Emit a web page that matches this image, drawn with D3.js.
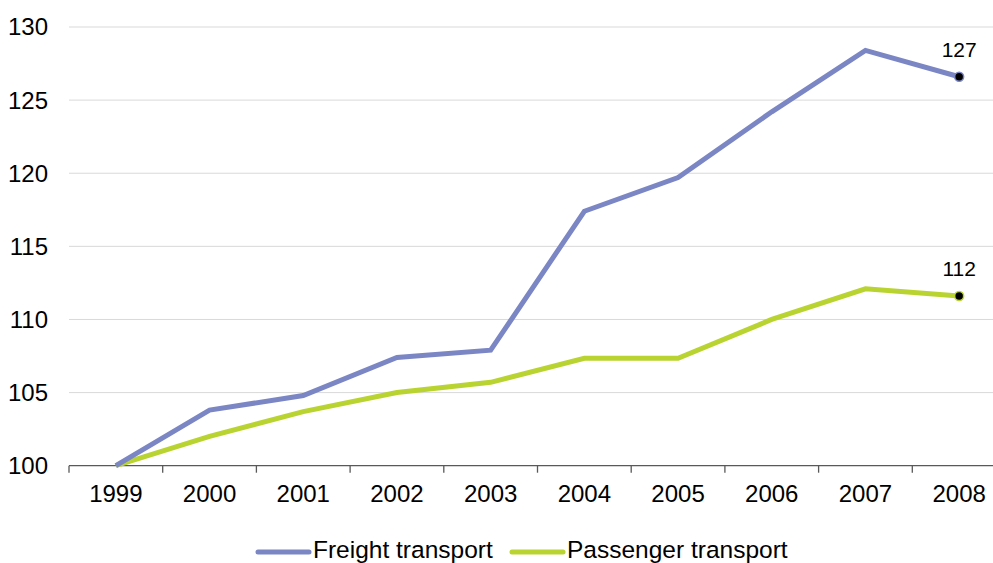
<!DOCTYPE html>
<html>
<head>
<meta charset="utf-8">
<script src="https://cdn.jsdelivr.net/npm/d3@7"></script>
<style>
  body { margin: 0; background: #fff; }
  svg { display: block; font-family: "Liberation Sans", Arial, sans-serif; }
</style>
</head>
<body>
<div id="vis"></div>
<script>
// chart data
const YEARS = ["1999", "2000", "2001", "2002", "2003", "2004", "2005", "2006", "2007", "2008"];
const FREIGHT = [100, 103.8, 104.8, 107.4, 107.9, 117.4, 119.7, 124.2, 128.4, 126.6];
const PASSENGER = [100, 102.0, 103.7, 105.0, 105.7, 107.35, 107.35, 110.0, 112.1, 111.6];
const Y_TICKS = [100, 105, 110, 115, 120, 125, 130];
const SERIES_NAMES = ["Freight transport", "Passenger transport"];

const FRAME_WIDTH = 993;
const FRAME_HEIGHT = 563;
const COLORS = ["#7b86c4", "#b9d431"];

const X_SCALE = d3.scaleBand()
    .domain(YEARS)
    .range([69, 1006]);
const Y_SCALE = d3.scaleLinear()
    .domain([100, 130])
    .range([465.7, 27]);

const FRAME = d3.select("#vis")
    .append("svg")
    .attr("width", FRAME_WIDTH)
    .attr("height", FRAME_HEIGHT);

// horizontal gridlines
FRAME.selectAll(".grid")
    .data(Y_TICKS.slice(1))
    .enter()
    .append("line")
    .attr("x1", X_SCALE.range()[0])
    .attr("x2", X_SCALE.range()[1])
    .attr("y1", (d) => Y_SCALE(d))
    .attr("y2", (d) => Y_SCALE(d))
    .attr("stroke", "#d9d9d9")
    .attr("stroke-width", 1);

// y labels
FRAME.selectAll(".ylab")
    .data(Y_TICKS)
    .enter()
    .append("text")
    .attr("x", 48)
    .attr("y", (d) => Y_SCALE(d))
    .attr("dy", "0.35em")
    .attr("text-anchor", "end")
    .attr("font-size", "24px")
    .attr("fill", "#000")
    .text((d) => d);

// x axis: line, boundary ticks, labels in band centres
const xAxis = FRAME.append("g")
    .attr("transform", "translate(0," + Y_SCALE(100) + ")")
    .call(d3.axisBottom(X_SCALE).tickSize(0).tickPadding(19));
xAxis.select(".domain").remove();
xAxis.selectAll("text")
    .attr("font-size", "24px")
    .attr("font-family", "Liberation Sans, Arial, sans-serif")
    .attr("fill", "#000");

FRAME.append("line")
    .attr("x1", X_SCALE.range()[0])
    .attr("x2", X_SCALE.range()[1])
    .attr("y1", Y_SCALE(100))
    .attr("y2", Y_SCALE(100))
    .attr("stroke", "#595959")
    .attr("stroke-width", 1.3);

FRAME.selectAll(".xtick")
    .data(YEARS)
    .enter()
    .append("line")
    .attr("x1", (d) => X_SCALE(d))
    .attr("x2", (d) => X_SCALE(d))
    .attr("y1", Y_SCALE(100))
    .attr("y2", Y_SCALE(100) + 7)
    .attr("stroke", "#595959")
    .attr("stroke-width", 1.3);

// lines
const line = d3.line()
    .x((d, i) => X_SCALE(YEARS[i]) + X_SCALE.bandwidth() / 2)
    .y((d) => Y_SCALE(d));

const ALL = [FREIGHT, PASSENGER];

// passenger drawn first so freight sits on top at the shared start
[1, 0].forEach((k) => {
    FRAME.append("path")
        .datum(ALL[k])
        .attr("d", line)
        .attr("fill", "none")
        .attr("stroke", COLORS[k])
        .attr("stroke-width", 5)
        .attr("stroke-linejoin", "miter");
});

// end markers and value labels
ALL.forEach((vals, k) => {
    const last = vals.length - 1;
    const cx = X_SCALE(YEARS[last]) + X_SCALE.bandwidth() / 2;
    const cy = Y_SCALE(vals[last]);
    FRAME.append("circle")
        .attr("cx", cx)
        .attr("cy", cy)
        .attr("r", 4.5)
        .attr("fill", "#000")
        .attr("stroke", COLORS[k])
        .attr("stroke-width", 1.5);
    FRAME.append("text")
        .attr("x", cx)
        .attr("y", cy - 20)
        .attr("text-anchor", "middle")
        .attr("font-size", "21px")
        .attr("fill", "#000")
        .text(Math.round(vals[last]));
});

// legend
const LEGEND_X = [258, 512];
SERIES_NAMES.forEach((name, k) => {
    FRAME.append("line")
        .attr("x1", LEGEND_X[k])
        .attr("x2", LEGEND_X[k] + 51)
        .attr("y1", 552)
        .attr("y2", 552)
        .attr("stroke", COLORS[k])
        .attr("stroke-width", 5)
        .attr("stroke-linecap", "round");
    FRAME.append("text")
        .attr("x", LEGEND_X[k] + 55)
        .attr("y", 558)
        .attr("font-size", "24.5px")
        .attr("fill", "#000")
        .text(name);
});
</script>
</body>
</html>
